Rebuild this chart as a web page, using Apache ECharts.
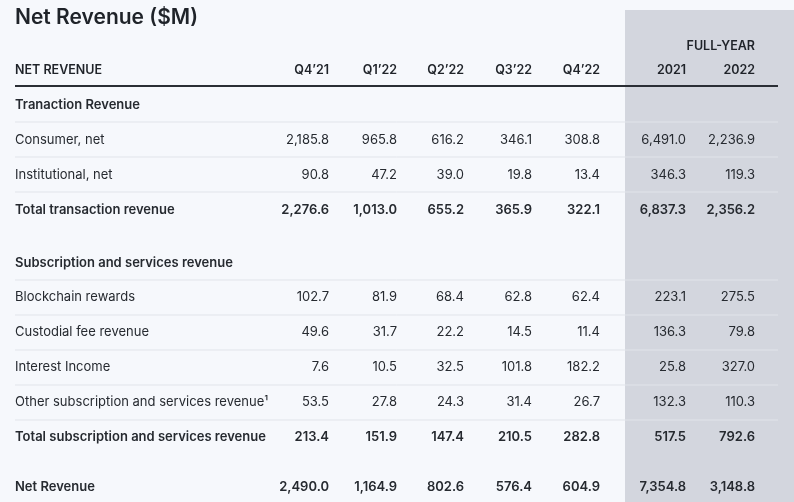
<!DOCTYPE html>
<html><head><meta charset="utf-8">
<script src="https://cdn.jsdelivr.net/npm/echarts@6/dist/echarts.min.js"></script>
<style>html,body{margin:0;background:#f6f8fc}#c{width:794px;height:502px}</style>
</head><body><div id="c"></div>
<script>
const title = "Net Revenue ($M)";
const columns = ["Q4\u201921","Q1\u201922","Q2\u201922","Q3\u201922","Q4\u201922","2021","2022"];
const headerLabel = "NET REVENUE";
const groupLabel = "FULL-YEAR";
const rowLabels = ["Tranaction Revenue","Consumer, net","Institutional, net","Total transaction revenue",
  "Subscription and services revenue","Blockchain rewards","Custodial fee revenue","Interest Income",
  "Other subscription and services revenue\u00b9","Total subscription and services revenue","Net Revenue"];
const rowValues = [
  null,
  ["2,185.8","965.8","616.2","346.1","308.8","6,491.0","2,236.9"],
  ["90.8","47.2","39.0","19.8","13.4","346.3","119.3"],
  ["2,276.6","1,013.0","655.2","365.9","322.1","6,837.3","2,356.2"],
  null,
  ["102.7","81.9","68.4","62.8","62.4","223.1","275.5"],
  ["49.6","31.7","22.2","14.5","11.4","136.3","79.8"],
  ["7.6","10.5","32.5","101.8","182.2","25.8","327.0"],
  ["53.5","27.8","24.3","31.4","26.7","132.3","110.3"],
  ["213.4","151.9","147.4","210.5","282.8","517.5","792.6"],
  ["2,490.0","1,164.9","802.6","576.4","604.9","7,354.8","3,148.8"]
];
const boldRows = [0,3,4,9,10];

// layout (positions in axis units = pixels)
const colX = [329,397,464,532,600,686,755];
const rowY = [105,140,175,210,263,297,332,367,402,437,487];
const sepY = [122,157,192,280,315,350,385,420];

const F = "Inter, 'Noto Sans', sans-serif";
const texts = [];
texts.push([15,18,title,'left','600',21,'#1f2329']);
texts.push([15,70,headerLabel,'left','600',12.5,'#1f2329']);
texts.push([755,46,groupLabel,'right','600',12.5,'#1f2329']);
columns.forEach((c,i)=>texts.push([colX[i],70,c,'right','600',12.5,'#1f2329']));
rowLabels.forEach((l,r)=>{
  const b = boldRows.includes(r);
  texts.push([15,rowY[r],l,'left',b?'600':'normal',13,'#262a30']);
  if(rowValues[r]) rowValues[r].forEach((v,i)=>texts.push([colX[i],rowY[r],v,'right',b?'600':'normal',13,'#262a30']));
});
const lines = sepY.map(y=>[15,y,778,1,'#e1e4ea']);
lines.push([15,86,778,2,'#2a2e35']);

const chart = echarts.init(document.getElementById('c'));
chart.setOption({
  backgroundColor:'#f6f8fc',
  animation:false,
  grid:{left:0,right:0,top:0,bottom:0},
  xAxis:{type:'value',min:0,max:794,show:false},
  yAxis:{type:'value',min:0,max:502,inverse:true,show:false},
  series:[
    {type:'custom',data:[[625,10,794,502]],silent:true,z:1,
     renderItem:(p,api)=>{const a=api.coord([api.value(0),api.value(1)]),b=api.coord([api.value(2),api.value(3)]);
       return {type:'rect',shape:{x:a[0],y:a[1],width:b[0]-a[0],height:b[1]-a[1]},style:{fill:'#d3d6de'}};}},
    {type:'custom',data:lines,z:2,
     renderItem:(p,api)=>{const a=api.coord([api.value(0),api.value(1)]),b=api.coord([api.value(2),api.value(1)]);
       return {type:'line',shape:{x1:a[0],y1:a[1],x2:b[0],y2:b[1]},style:{stroke:lines[p.dataIndex][4],lineWidth:api.value(3)}};}},
    {type:'custom',data:texts.map(t=>[t[0],t[1]]),z:3,
     renderItem:(p,api)=>{const t=texts[p.dataIndex];const a=api.coord([t[0],t[1]]);
       return {type:'text',x:a[0],y:a[1],style:{text:t[2],textAlign:t[3],textVerticalAlign:'middle',
         font:t[4]+' '+t[5]+'px '+F,fill:t[6]}};}}
  ]
});
</script></body></html>
